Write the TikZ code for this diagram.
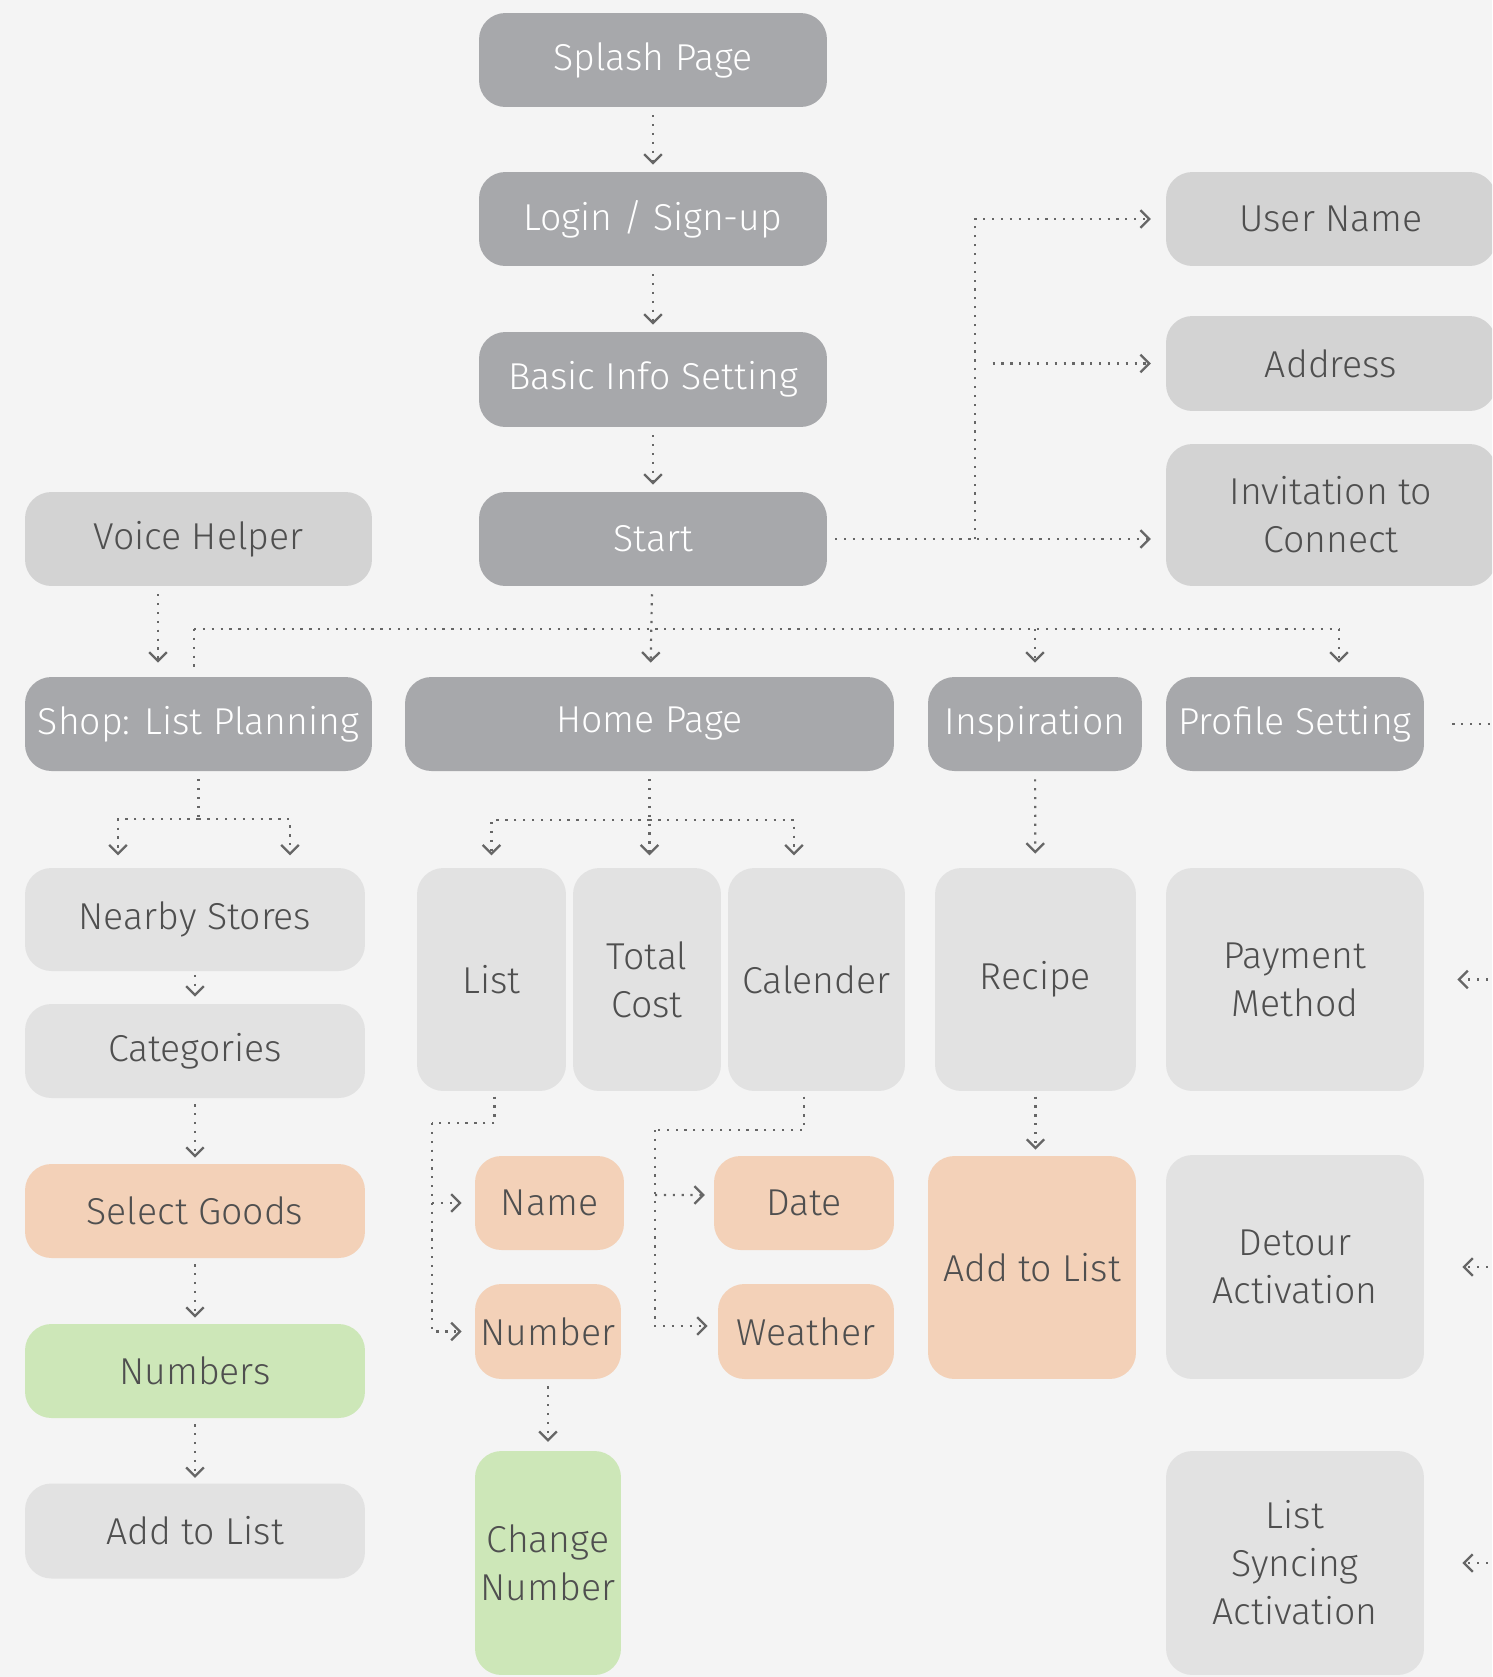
\documentclass[tikz,border=0pt]{standalone}
\usepackage{fontspec}
\setmainfont{Fira Sans}[UprightFont={* Light}]
\usetikzlibrary{arrows.meta,positioning,calc}

\definecolor{bgpaper}{HTML}{F4F4F4}
\definecolor{boxdark}{HTML}{A7A8AB}
\definecolor{boxmid}{HTML}{D3D3D3}
\definecolor{boxlight}{HTML}{E2E2E2}
\definecolor{boxorange}{HTML}{F3D1B8}
\definecolor{boxgreen}{HTML}{CDE7B8}
\definecolor{inktext}{HTML}{4F4F4F}
\definecolor{inkline}{HTML}{666666}

\begin{document}
\begin{tikzpicture}[x=0.02cm,y=-0.02cm]

\tikzset{
  card/.style={rounded corners=15pt, align=center, inner sep=2pt,
               font=\fontsize{21.3}{27.3}\selectfont, text=inktext},
  darkcard/.style={card, fill=boxdark, text=white},
  midcard/.style={card, fill=boxmid},
  lightcard/.style={card, fill=boxlight},
  orangecard/.style={card, fill=boxorange},
  greencard/.style={card, fill=boxgreen},
  wire/.style={inkline, line width=1.25pt, dash pattern=on 1.25pt off 3.8pt},
  flow/.style={wire, shorten <=4.5pt, shorten >=4pt,
               -{Straight Barb[length=5pt, width=10pt, line width=1.3pt]}}
}

% Paper
\path[use as bounding box, fill=bgpaper] (0,0) rectangle (1492,1677);
\clip (0,0) rectangle (1492,1677);

% Onboarding column
\node[darkcard, minimum width=6.96cm, minimum height=1.88cm] (splash) at (653,60) {Splash Page};
\node[darkcard, minimum width=6.96cm, minimum height=1.88cm] (login) at (653,219) {Login / Sign-up};
\node[darkcard, minimum width=6.96cm, minimum height=1.9cm] (basic) at (653,379.5) {Basic Info Setting};
\node[darkcard, minimum width=6.96cm, minimum height=1.88cm] (start) at (653,539) {Start};
\node[midcard, minimum width=6.94cm, minimum height=1.88cm] (voice) at (198.5,539) {Voice Helper};

% Basic info details
\node[midcard, minimum width=6.6cm, minimum height=1.88cm] (username) at (1331,219) {User Name};
\node[midcard, minimum width=6.6cm, minimum height=1.9cm] (address) at (1331,363.5) {Address};
\node[midcard, minimum width=6.6cm, minimum height=2.84cm] (invite) at (1331,515) {Invitation to\\Connect};

% Main sections
\node[darkcard, minimum width=6.94cm, minimum height=1.88cm] (shop) at (198.5,724) {Shop: List Planning};
\node[darkcard, minimum width=9.78cm, minimum height=1.88cm] (home) at (649.5,724) {Home Page};
\node[darkcard, minimum width=4.28cm, minimum height=1.88cm] (inspire) at (1035,724) {Inspiration};
\node[darkcard, minimum width=5.16cm, minimum height=1.88cm] (profile) at (1295,724) {Profile Setting};

% Shop branch
\node[lightcard, minimum width=6.8cm, minimum height=2.06cm] (nearby) at (195,919.5) {Nearby Stores};
\node[lightcard, minimum width=6.8cm, minimum height=1.88cm] (categories) at (195,1051) {Categories};
\node[orangecard, minimum width=6.8cm, minimum height=1.88cm] (select) at (195,1211) {Select Goods};
\node[greencard, minimum width=6.8cm, minimum height=1.88cm] (numbers) at (195,1371) {Numbers};
\node[lightcard, minimum width=6.8cm, minimum height=1.9cm] (addleft) at (195,1531) {Add to List};

% Home branch
\node[lightcard, minimum width=2.98cm, minimum height=4.46cm] (list) at (491.5,979.5) {List};
\node[lightcard, minimum width=2.96cm, minimum height=4.46cm] (total) at (647,979.5) {Total\\Cost};
\node[lightcard, minimum width=3.54cm, minimum height=4.46cm] (calender) at (816.5,979.5) {Calender};
\node[orangecard, minimum width=2.98cm, minimum height=1.88cm] (name) at (549.5,1203) {Name};
\node[orangecard, minimum width=2.92cm, minimum height=1.9cm] (number) at (548,1331.5) {Number};
\node[greencard, minimum width=2.92cm, minimum height=4.48cm] (change) at (548,1563) {Change\\Number};
\node[orangecard, minimum width=3.6cm, minimum height=1.88cm] (date) at (804,1203) {Date};
\node[orangecard, minimum width=3.52cm, minimum height=1.9cm] (weather) at (806,1331.5) {Weather};

% Inspiration branch
\node[lightcard, minimum width=4.02cm, minimum height=4.46cm] (recipe) at (1035.5,979.5) {Recipe};
\node[orangecard, minimum width=4.16cm, minimum height=4.46cm] (addright) at (1032,1267.5) {Add to List};

% Profile branch
\node[lightcard, minimum width=5.16cm, minimum height=4.46cm] (payment) at (1295,979.5) {Payment\\Method};
\node[lightcard, minimum width=5.16cm, minimum height=4.48cm] (detour) at (1295,1267) {Detour\\Activation};
\node[lightcard, minimum width=5.16cm, minimum height=4.48cm] (syncing) at (1295,1563) {List\\Syncing\\Activation};

% Junctions
\coordinate (fork) at (975,539);
\coordinate (busL) at (194,629);
\coordinate (busR) at (1339,629);
\coordinate (shopsplit) at ($(shop.south)+(0,48)$);
\coordinate (homesplit) at ($(home.south)+(0,49)$);
\coordinate (listrail) at (432,1123);
\coordinate (calrail) at (655,1130);

% Onboarding flow
\draw[flow] (splash) -- (login);
\draw[flow] (login) -- (basic);
\draw[flow] (basic) -- (start);
\draw[flow, shorten >=8.5pt] (start) -- (invite.west |- start);
\draw[flow, shorten <=0pt, shorten >=8.5pt] (fork) |- (username.west);
\draw[flow, shorten <=10pt, shorten >=8.5pt] (fork |- address) -- (address.west);

% Bus under Start
\draw[flow, shorten >=8pt] (start) -- (home);
\draw[wire] (busL) -- (busR);
\draw[wire, shorten >=5pt] (busL) -- (busL |- shop.north);
\draw[flow, shorten <=0pt, shorten >=8pt] (inspire.north |- busL) -- (inspire.north);
\draw[flow, shorten <=0pt, shorten >=8pt] (busR) -- (busR |- profile.north);
\draw[flow, shorten >=8pt] ([xshift=-0.81cm]voice.south) -- ([xshift=-0.81cm]shop.north);
\draw[wire] ([xshift=0.56cm]profile.east) -- ([xshift=2cm]profile.east);

% Incoming from the right
\draw[flow, shorten <=0pt, shorten >=0pt] ([xshift=1.8cm]payment.east) -- ([xshift=0.66cm]payment.east);
\draw[flow, shorten <=0pt, shorten >=0pt] ([xshift=1.8cm]detour.east) -- ([xshift=0.76cm]detour.east);
\draw[flow, shorten <=0pt, shorten >=0pt] ([xshift=1.8cm]syncing.east) -- ([xshift=0.76cm]syncing.east);

% Shop flow
\draw[wire, shorten <=4.5pt] (shop.south) -- (shopsplit);
\draw[flow, shorten <=0pt, shorten >=7pt] (shopsplit) -| ([xshift=-1.54cm]nearby.north);
\draw[flow, shorten <=0pt, shorten >=7pt] (shopsplit) -| ([xshift=1.9cm]nearby.north);
\draw[flow, shorten <=2pt] (nearby) -- (categories);
\draw[flow, shorten <=3.4pt, shorten >=3.4pt] (categories) -- (select);
\draw[flow, shorten <=3.4pt, shorten >=3.4pt] (select) -- (numbers);
\draw[flow, shorten <=3.4pt, shorten >=3pt] (numbers) -- (addleft);

% Home flow
\draw[flow, shorten >=7pt] (home.south) -- (home.south |- list.north);
\draw[flow, shorten <=0pt, shorten >=7pt] (homesplit) -| (list.north);
\draw[flow, shorten <=0pt, shorten >=7pt] (homesplit) -| ([xshift=-0.45cm]calender.north);
\draw[wire, shorten <=3pt] ([xshift=0.06cm]list.south) |- (listrail);
\draw[flow, shorten <=0pt, shorten >=7.4pt] (listrail) |- (number.west);
\draw[flow, shorten <=0pt, shorten >=7.4pt] (listrail |- name) -- (name.west);
\draw[wire, shorten <=3pt] ([xshift=-0.25cm]calender.south) |- (calrail);
\draw[flow, shorten <=0pt, shorten >=5.7pt] (calrail) |- ([yshift=0.11cm]weather.west);
\draw[flow, shorten <=0pt, shorten >=5pt] (calrail |- 0,1195) -- ([yshift=0.16cm]date.west);
\draw[flow, shorten <=4pt, shorten >=5pt] (number) -- (change);

% Inspiration flow
\draw[flow, shorten <=4.5pt, shorten >=8pt] (inspire) -- (recipe);
\draw[flow, shorten <=3pt, shorten >=3.4pt] (recipe.south) -- (recipe.south |- addright.north);

\end{tikzpicture}
\end{document}
